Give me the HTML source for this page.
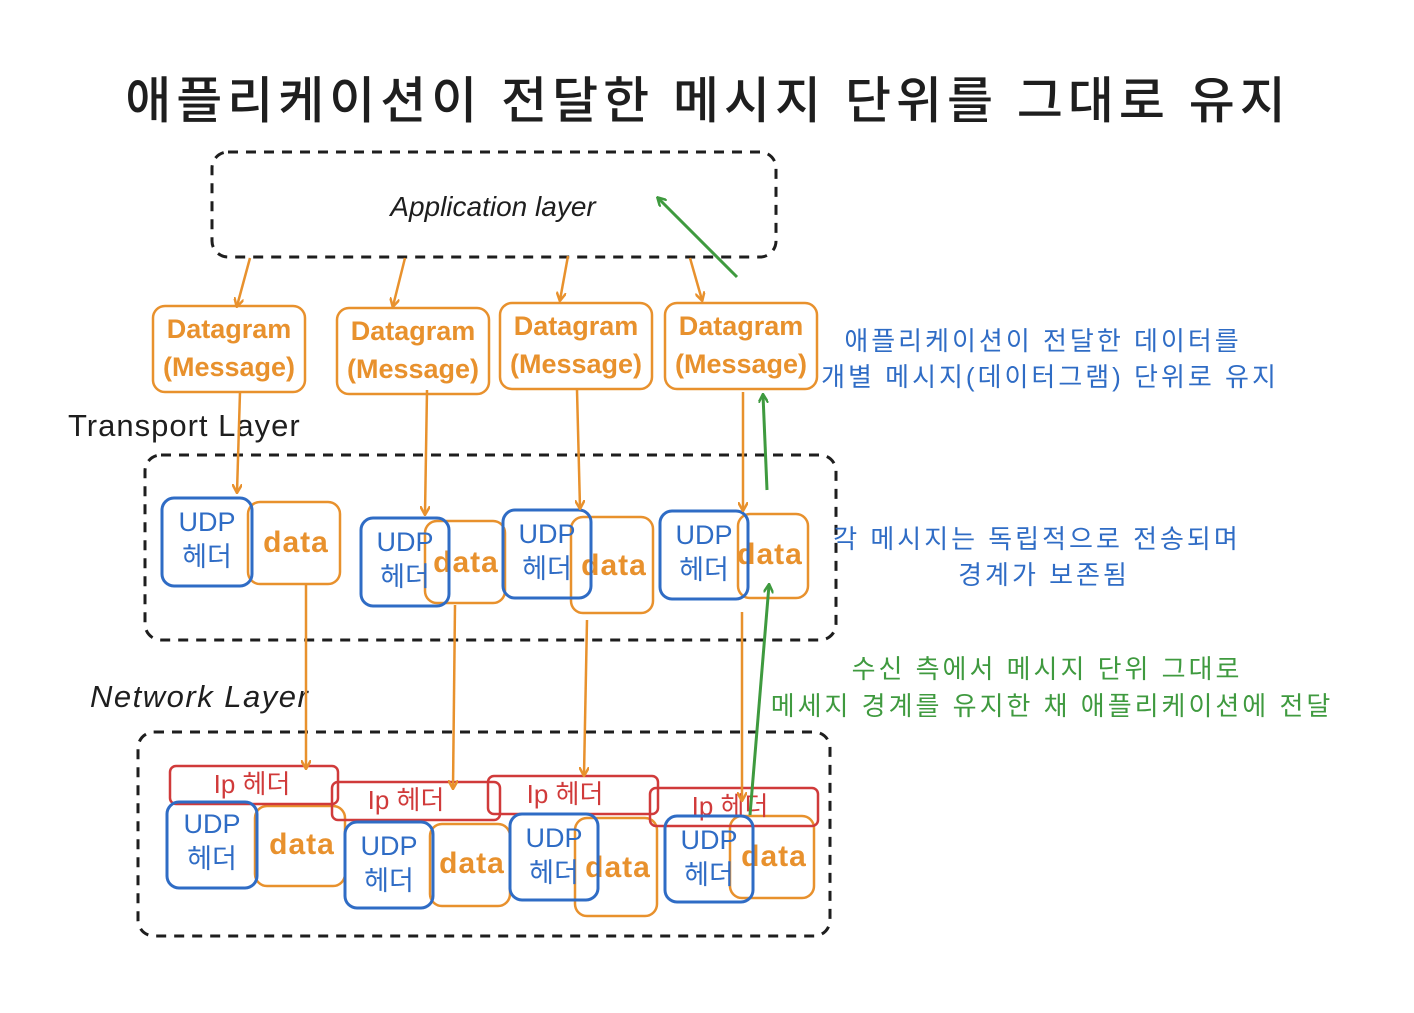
<!DOCTYPE html>
<html><head><meta charset="utf-8"><style>
html,body{margin:0;padding:0;background:#fff;}
svg text{font-family:"Liberation Sans","Noto Sans CJK KR",sans-serif;}
</style></head><body>
<svg width="1414" height="1008" viewBox="0 0 1414 1008" xmlns="http://www.w3.org/2000/svg">
<defs>
<marker id="ao" markerWidth="10" markerHeight="10" refX="8" refY="5" orient="auto" markerUnits="userSpaceOnUse"><path d="M0,0 L9,5 L0,10" fill="none" stroke="#e8912d" stroke-width="2.5"/></marker>
<marker id="ag" markerWidth="10" markerHeight="10" refX="8" refY="5" orient="auto" markerUnits="userSpaceOnUse"><path d="M0,0 L9,5 L0,10" fill="none" stroke="#3f9a3f" stroke-width="2.5"/></marker>
</defs>
<text x="708" y="118" font-size="50" text-anchor="middle" fill="#1e1e1e" letter-spacing="5" font-weight="500">애플리케이션이 전달한 메시지 단위를 그대로 유지</text>

<g fill="none" stroke="#1e1e1e" stroke-width="3" stroke-dasharray="10,8">
<rect x="212" y="152" width="564" height="105" rx="16"/>
<rect x="145" y="455" width="691" height="185" rx="16"/>
<rect x="138" y="732" width="692" height="204" rx="16"/>
</g>
<text x="493" y="216" font-size="28" text-anchor="middle" fill="#1e1e1e" font-style="italic">Application layer</text>
<text x="68" y="436" font-size="31" fill="#1e1e1e" letter-spacing="1">Transport Layer</text>
<text x="90" y="707" font-size="31" fill="#1e1e1e" font-style="italic" letter-spacing="1.5">Network Layer</text>

<g fill="none" stroke="#e8912d" stroke-width="2.5">
<rect x="153" y="306" width="152" height="86" rx="12"/>
<rect x="337" y="308" width="152" height="86" rx="12"/>
<rect x="500" y="303" width="152" height="86" rx="12"/>
<rect x="665" y="303" width="152" height="86" rx="12"/>
<rect x="248" y="502" width="92" height="82" rx="12"/>
<rect x="425" y="521" width="80" height="82" rx="12"/>
<rect x="571" y="517" width="82" height="96" rx="12"/>
<rect x="738" y="514" width="70" height="84" rx="12"/>
<rect x="255" y="806" width="90" height="80" rx="12"/>
<rect x="430" y="824" width="80" height="82" rx="12"/>
<rect x="575" y="818" width="82" height="98" rx="12"/>
<rect x="730" y="816" width="84" height="82" rx="12"/>
</g>
<g fill="#e8912d" font-size="27" text-anchor="middle" font-weight="bold">
<text x="229" y="338">Datagram</text><text x="229" y="376">(Message)</text>
<text x="413" y="340">Datagram</text><text x="413" y="378">(Message)</text>
<text x="576" y="335">Datagram</text><text x="576" y="373">(Message)</text>
<text x="741" y="335">Datagram</text><text x="741" y="373">(Message)</text>
</g>
<g fill="#e8912d" font-size="30" text-anchor="middle" font-weight="bold" letter-spacing="1">
<text x="296" y="552">data</text><text x="466" y="572">data</text><text x="614" y="575">data</text><text x="770" y="564">data</text>
<text x="302" y="854">data</text><text x="472" y="873">data</text><text x="618" y="877">data</text><text x="774" y="866">data</text>
</g>

<g fill="none" stroke="#d03a3a" stroke-width="2.5">
<rect x="170" y="766" width="168" height="38" rx="6"/>
<rect x="332" y="782" width="168" height="38" rx="6"/>
<rect x="488" y="776" width="170" height="38" rx="6"/>
<rect x="650" y="788" width="168" height="38" rx="6"/>
</g>
<g fill="#d03a3a" font-size="26" text-anchor="middle">
<text x="252" y="793">Ip 헤더</text><text x="406" y="809">Ip 헤더</text><text x="565" y="803">Ip 헤더</text><text x="730" y="815">Ip 헤더</text>
</g>

<g fill="none" stroke="#2f6cc5" stroke-width="3">
<rect x="162" y="498" width="90" height="88" rx="12"/>
<rect x="361" y="518" width="88" height="88" rx="12"/>
<rect x="503" y="510" width="88" height="88" rx="12"/>
<rect x="660" y="511" width="88" height="88" rx="12"/>
<rect x="167" y="802" width="90" height="86" rx="12"/>
<rect x="345" y="822" width="88" height="86" rx="12"/>
<rect x="510" y="814" width="88" height="86" rx="12"/>
<rect x="665" y="816" width="88" height="86" rx="12"/>
</g>
<g fill="#2f6cc5" font-size="27" text-anchor="middle">
<text x="207" y="531">UDP</text><text x="207" y="566">헤더</text>
<text x="405" y="551">UDP</text><text x="405" y="586">헤더</text>
<text x="547" y="543">UDP</text><text x="547" y="578">헤더</text>
<text x="704" y="544">UDP</text><text x="704" y="579">헤더</text>
<text x="212" y="833">UDP</text><text x="212" y="868">헤더</text>
<text x="389" y="855">UDP</text><text x="389" y="890">헤더</text>
<text x="554" y="847">UDP</text><text x="554" y="882">헤더</text>
<text x="709" y="849">UDP</text><text x="709" y="884">헤더</text>
</g>

<g stroke="#e8912d" stroke-width="2.5" fill="none" marker-end="url(#ao)">
<line x1="250" y1="258" x2="237" y2="306"/>
<line x1="405" y1="258" x2="393" y2="306"/>
<line x1="568" y1="256" x2="560" y2="300"/>
<line x1="690" y1="258" x2="702" y2="300"/>
<line x1="240" y1="392" x2="237" y2="492"/>
<line x1="427" y1="390" x2="425" y2="514"/>
<line x1="577" y1="390" x2="580" y2="508"/>
<line x1="743" y1="392" x2="743" y2="510"/>
<line x1="306" y1="585" x2="306" y2="768"/>
<line x1="455" y1="605" x2="453" y2="788"/>
<line x1="587" y1="620" x2="584" y2="775"/>
<line x1="742" y1="612" x2="742" y2="800"/>
</g>
<g stroke="#3f9a3f" stroke-width="3" fill="none" marker-end="url(#ag)">
<line x1="737" y1="277" x2="658" y2="198"/>
<line x1="767" y1="490" x2="763" y2="395"/>
<line x1="750" y1="815" x2="769" y2="585"/>
</g>

<g fill="#2f6cc5" font-size="26" text-anchor="middle" letter-spacing="3">
<text x="1043" y="350">애플리케이션이 전달한 데이터를</text>
<text x="1050" y="386">개별 메시지(데이터그램) 단위로 유지</text>
<text x="1037" y="548">각 메시지는 독립적으로 전송되며</text>
<text x="1044" y="584">경계가 보존됨</text>
</g>
<g fill="#3f9a3f" font-size="26" text-anchor="middle" letter-spacing="3">
<text x="1047" y="678">수신 측에서 메시지 단위 그대로</text>
<text x="1052" y="715">메세지 경계를 유지한 채 애플리케이션에 전달</text>
</g>
</svg>
</body></html>
